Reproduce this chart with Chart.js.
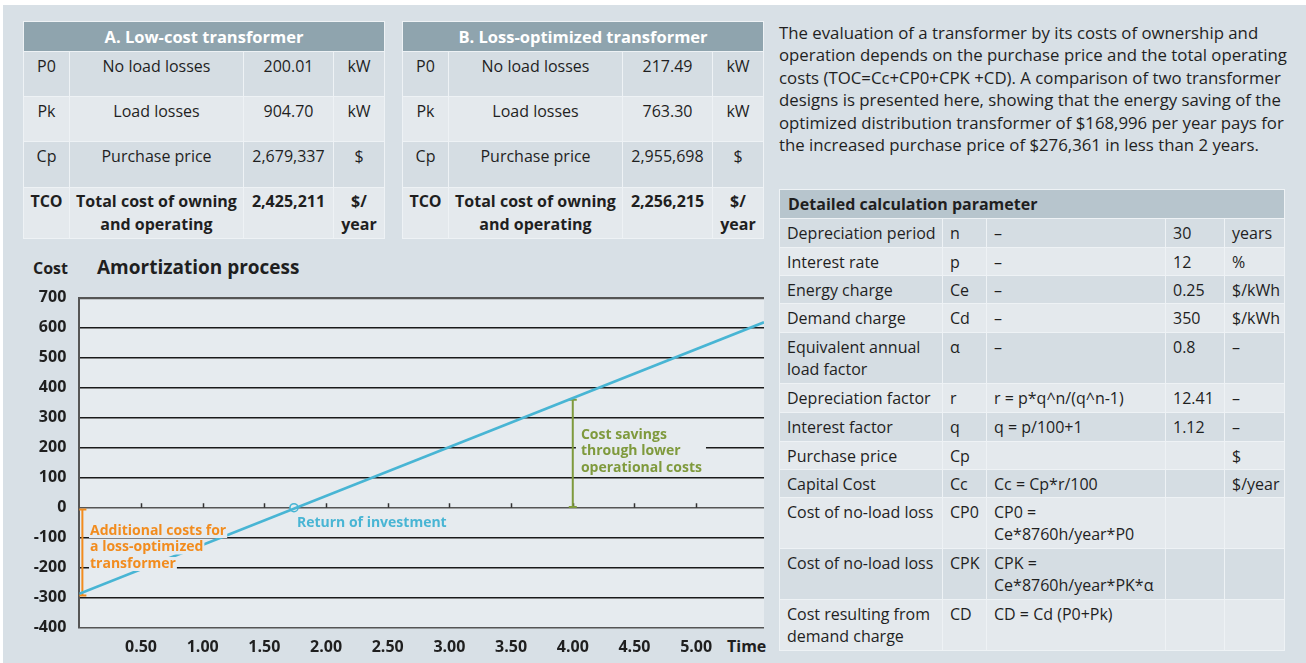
<!DOCTYPE html>
<html>
<head>
<meta charset="utf-8">
<title>Transformer amortization</title>
<script src="https://cdn.jsdelivr.net/npm/chart.js@4.4.1/dist/chart.umd.min.js"></script>
<style>
  body { margin: 0; width: 1306px; height: 663px; background: #fff; font-family: 'Open Sans', sans-serif; color: #1f1f1f; overflow: hidden; position: relative; }
  .page { position: absolute; left: 3px; top: 5px; right: 0; bottom: 0; background: #d8e0e6; }
  .tbl { position: absolute; display: grid; gap: 1px; padding: 1px; background: #eef2f5; font-size: 16px; }
  .tbl div { line-height: 22px; padding-top: 3px; white-space: nowrap; }
  .tbl .hd { grid-column: 1 / -1; background: #8fa4ae; color: #fff; font-weight: bold; text-align: center; line-height: 29px; padding-top: 0; font-size: 16.5px; }
  .ab { grid-template-columns: 45px 173px 89px 50px; grid-template-rows: 29px 44px 44px 45px 50px; top: 21px; }
  .ab div { text-align: center; }
  .dk { background: #d5dde3; }
  .lt { background: #e4e9ed; }
  .ab .b { font-weight: bold; line-height: 23px; padding-top: 2px; }
  .det { left: 779px; top: 189px; grid-template-columns: 162px 43px 178px 58px 59px;
         grid-template-rows: 28px 28px 27px 27px 28px 50px 28px 28px 27px 27px 50px 50px 50px; }
  .det div { padding-left: 7px; }
  .det .hd { background: #b7c5cd; color: #1f1f1f; text-align: left; padding-left: 8px; font-size: 16px; }
  .para { position: absolute; left: 779px; top: 22px; font-size: 16.8px; line-height: 22.4px; white-space: nowrap; }
  .lbl { position: absolute; font-weight: bold; white-space: nowrap; }
  #box { position: absolute; left: 20px; top: 255px; width: 760px; height: 408px; }
</style>
</head>
<body>
<div class="page"></div>

<div class="tbl ab" style="left:23px">
  <div class="hd">A. Low-cost transformer</div>
  <div class="dk">P0</div><div class="dk">No load losses</div><div class="dk">200.01</div><div class="dk">kW</div>
  <div class="lt">Pk</div><div class="lt">Load losses</div><div class="lt">904.70</div><div class="lt">kW</div>
  <div class="dk">Cp</div><div class="dk">Purchase price</div><div class="dk">2,679,337</div><div class="dk">$</div>
  <div class="lt b">TCO</div><div class="lt b">Total cost of owning<br>and operating</div><div class="lt b">2,425,211</div><div class="lt b">$/<br>year</div>
</div>

<div class="tbl ab" style="left:402px">
  <div class="hd">B. Loss-optimized transformer</div>
  <div class="dk">P0</div><div class="dk">No load losses</div><div class="dk">217.49</div><div class="dk">kW</div>
  <div class="lt">Pk</div><div class="lt">Load losses</div><div class="lt">763.30</div><div class="lt">kW</div>
  <div class="dk">Cp</div><div class="dk">Purchase price</div><div class="dk">2,955,698</div><div class="dk">$</div>
  <div class="lt b">TCO</div><div class="lt b">Total cost of owning<br>and operating</div><div class="lt b">2,256,215</div><div class="lt b">$/<br>year</div>
</div>

<div class="para">The evaluation of a transformer by its costs of ownership and<br>operation depends on the purchase price and the total operating<br>costs (TOC=Cc+CP0+CPK +CD). A comparison of two transformer<br>designs is presented here, showing that the energy saving of the<br>optimized distribution transformer of $168,996 per year pays for<br>the increased purchase price of $276,361 in less than 2 years.</div>

<div class="tbl det">
  <div class="hd">Detailed calculation parameter</div>
  <div class="dk">Depreciation period</div><div class="dk">n</div><div class="dk">–</div><div class="dk">30</div><div class="dk">years</div>
  <div class="lt">Interest rate</div><div class="lt">p</div><div class="lt">–</div><div class="lt">12</div><div class="lt">%</div>
  <div class="dk">Energy charge</div><div class="dk">Ce</div><div class="dk">–</div><div class="dk">0.25</div><div class="dk">$/kWh</div>
  <div class="lt">Demand charge</div><div class="lt">Cd</div><div class="lt">–</div><div class="lt">350</div><div class="lt">$/kWh</div>
  <div class="dk">Equivalent annual<br>load factor</div><div class="dk">α</div><div class="dk">–</div><div class="dk">0.8</div><div class="dk">–</div>
  <div class="lt">Depreciation factor</div><div class="lt">r</div><div class="lt">r = p*q^n/(q^n-1)</div><div class="lt">12.41</div><div class="lt">–</div>
  <div class="dk">Interest factor</div><div class="dk">q</div><div class="dk">q = p/100+1</div><div class="dk">1.12</div><div class="dk">–</div>
  <div class="lt">Purchase price</div><div class="lt">Cp</div><div class="lt"></div><div class="lt"></div><div class="lt">$</div>
  <div class="dk">Capital Cost</div><div class="dk">Cc</div><div class="dk">Cc = Cp*r/100</div><div class="dk"></div><div class="dk">$/year</div>
  <div class="lt">Cost of no-load loss</div><div class="lt">CP0</div><div class="lt">CP0 =<br>Ce*8760h/year*P0</div><div class="lt"></div><div class="lt"></div>
  <div class="dk">Cost of no-load loss</div><div class="dk">CPK</div><div class="dk">CPK =<br>Ce*8760h/year*PK*α</div><div class="dk"></div><div class="dk"></div>
  <div class="lt">Cost resulting from<br>demand charge</div><div class="lt">CD</div><div class="lt">CD = Cd (P0+Pk)</div><div class="lt"></div><div class="lt"></div>
</div>

<div class="lbl" style="left:33px; top:257px; font-size:16px; line-height:22px;">Cost</div>
<div class="lbl" style="left:97px; top:254px; font-size:19px; line-height:26px;">Amortization process</div>
<div class="lbl" style="left:727px; top:635px; font-size:16px; line-height:22px;">Time</div>

<div id="box"><canvas id="chart" width="760" height="408"></canvas></div>

<script>
// amortization curve (cost difference in k$ over time in years)
const amortTime = [0, 5.55];
const amortCost = [-287, 618];
// break-even point
const returnTime = [1.74];
const returnCost = [0];
// extra purchase cost bar and savings bar
const extraX = [0.025, 0.025];
const extraY = [-6, -293];
const savingX = [4, 4];
const savingY = [2, 360];

const xTickValues = [0.5, 1, 1.5, 2, 2.5, 3, 3.5, 4, 4.5, 5];
const xTickLabels = ['0.50', '1.00', '1.50', '2.00', '2.50', '3.00', '3.50', '4.00', '4.50', '5.00'];
const yTickValues = [-400, -300, -200, -100, 0, 100, 200, 300, 400, 500, 600, 700];
const yTickLabels = ['-400', '-300', '-200', '-100', '0', '100', '200', '300', '400', '500', '600', '700'];

const BLUE = '#48b5d4';
const ORANGE = '#f28c1e';
const GREEN = '#7f9a3d';
const PLOT_BG = '#e6ebef';

const notes = [
  { lines: ['Additional costs for', 'a loss-optimized', 'transformer'], x: 0.087, y: -66, color: ORANGE, box: 'line' },
  { lines: ['Cost savings', 'through lower', 'operational costs'], x: 4.066, y: 254, color: GREEN, box: 'all' },
  { lines: ['Return of investment'], x: 1.764, y: -39, color: BLUE, box: 'none' }
];

const toPoints = (xs, ys) => xs.map((x, i) => ({ x: x, y: ys[i] }));

Chart.defaults.font.family = "'Open Sans', sans-serif";

const plotBackground = {
  id: 'plotBackground',
  beforeDraw(chart) {
    const { ctx, chartArea: a } = chart;
    ctx.save();
    ctx.fillStyle = PLOT_BG;
    ctx.fillRect(a.left, a.top, a.right - a.left, a.bottom - a.top);
    ctx.restore();
  }
};

// small tick marks sitting on the zero line
const zeroTicks = {
  id: 'zeroTicks',
  beforeDatasetsDraw(chart) {
    const { ctx, scales } = chart;
    const y0 = scales.y.getPixelForValue(0);
    ctx.save();
    ctx.strokeStyle = '#333';
    ctx.lineWidth = 1.5;
    ctx.beginPath();
    xTickValues.forEach(v => {
      const px = Math.round(scales.x.getPixelForValue(v)) + 0.5;
      ctx.moveTo(px, y0);
      ctx.lineTo(px, y0 - 4.5);
    });
    ctx.stroke();
    ctx.restore();
  }
};

const notesPlugin = {
  id: 'notes',
  afterDatasetsDraw(chart) {
    const { ctx, scales } = chart;
    const lh = 16.5;
    ctx.save();
    ctx.font = "bold 14px 'Open Sans', sans-serif";
    ctx.textBaseline = 'middle';
    notes.forEach(n => {
      const left = scales.x.getPixelForValue(n.x);
      const top = scales.y.getPixelForValue(n.y) + 3.5;
      const widths = n.lines.map(t => ctx.measureText(t).width);
      const maxW = Math.max(...widths);
      ctx.fillStyle = PLOT_BG;
      if (n.box === 'all') {
        ctx.fillRect(left - 5, top - 9, maxW + 9, lh * n.lines.length + 1);
      } else if (n.box === 'line') {
        n.lines.forEach((t, i) => ctx.fillRect(left - 1, top + i * lh - 7, widths[i] + 2, 14));
      }
      ctx.fillStyle = n.color;
      n.lines.forEach((t, i) => ctx.fillText(t, left, top + i * lh));
    });
    ctx.restore();
  }
};

new Chart(document.getElementById('chart'), {
  type: 'line',
  data: {
    datasets: [
      {
        data: toPoints(amortTime, amortCost),
        borderColor: BLUE,
        borderWidth: 2.6,
        pointRadius: 0
      },
      {
        data: toPoints(extraX, extraY),
        borderColor: ORANGE,
        borderWidth: 2,
        pointStyle: 'line',
        pointRadius: 4,
        pointBorderWidth: 2,
        pointBorderColor: ORANGE
      },
      {
        data: toPoints(savingX, savingY),
        borderColor: GREEN,
        borderWidth: 2,
        pointStyle: 'line',
        pointRadius: 4,
        pointBorderWidth: 2,
        pointBorderColor: GREEN
      },
      {
        data: toPoints(returnTime, returnCost),
        showLine: false,
        pointRadius: 4,
        pointBorderWidth: 1.6,
        pointBorderColor: BLUE,
        pointBackgroundColor: PLOT_BG
      }
    ]
  },
  options: {
    responsive: false,
    animation: false,
    layout: { padding: { left: 0, top: 42.7, right: 16, bottom: 0 } },
    scales: {
      x: {
        type: 'linear',
        min: 0,
        max: 5.55,
        afterBuildTicks: s => { s.ticks = xTickValues.map(v => ({ value: v })); },
        afterFit: s => { s.height = 35.3; },
        grid: { display: false },
        border: { display: false },
        ticks: {
          autoSkip: false,
          maxRotation: 0,
          padding: 2,
          color: '#1f1f1f',
          font: { size: 16, weight: 'bold' },
          callback: (v, i) => xTickLabels[i]
        }
      },
      y: {
        type: 'linear',
        min: -400,
        max: 700,
        afterBuildTicks: s => { s.ticks = yTickValues.map(v => ({ value: v })); },
        afterFit: s => { s.width = 59.3; },
        grid: {
          drawTicks: false,
          color: c => ([700, 0, -400].includes(c.tick.value) ? '#555' : '#1a1a1a'),
          lineWidth: c => (c.tick.value === 700 ? 2.2 : 1.6)
        },
        border: { display: true, color: '#555', width: 2 },
        ticks: {
          padding: 13,
          color: '#1f1f1f',
          font: { size: 16, weight: 'bold' },
          callback: (v, i) => yTickLabels[i]
        }
      }
    },
    plugins: {
      legend: { display: false },
      tooltip: { enabled: false }
    }
  },
  plugins: [plotBackground, zeroTicks, notesPlugin]
});
</script>
</body>
</html>
